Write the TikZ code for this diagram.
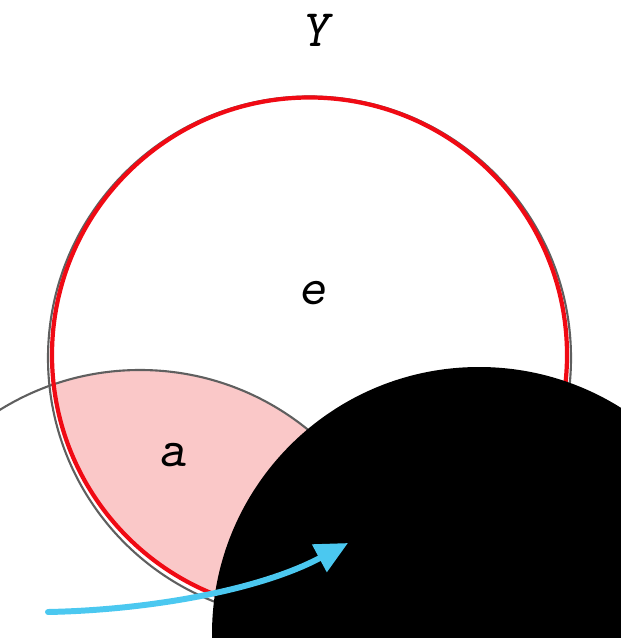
\documentclass[tikz,border=0pt]{standalone}
\usetikzlibrary{arrows.meta}
\definecolor{setred}{RGB}{240,10,20}
\definecolor{rim}{RGB}{95,95,95}
\definecolor{blush}{RGB}{250,200,200}
\definecolor{sky}{RGB}{75,200,240}
\tikzset{
  >={Triangle[length=6.5mm,width=6mm]},
  setname/.style={font=\fontsize{30}{32}\selectfont\ttfamily\slshape,inner sep=0pt},
  rimline/.style={draw=rim,line width=1.2pt},
  stroke/.style={->,draw=sky,line width=3.4pt,line cap=round},
}
\begin{document}
\begin{tikzpicture}[x=0.02cm,y=-0.02cm]
  \useasboundingbox (0,0) rectangle (620,638);
  % shaded part of the two sets
  \begin{scope}
    \clip (309.5,355) circle (257.5);
    \fill[blush] (140,636) circle (266);
  \end{scope}
  \draw[rimline] (309.5,358) circle (261.5);
  \draw[rimline] (140,636) circle (266);
  \draw[setred,line width=2.4pt] (309.5,355) circle (257.5);
  \fill[black] (479,634) circle (267);
  % labels
  \node[setname] (Y) at (315,30) {Y};
  \node[setname] (e) at (312,293) {e};
  \node[setname] (a) at (172,455) {a};
  % stroke over the disc
  \coordinate (from) at (48,612);
  \coordinate (to) at (348,543);
  \draw[stroke] (from) .. controls (150,610) and (260,590) .. (to);
\end{tikzpicture}
\end{document}
